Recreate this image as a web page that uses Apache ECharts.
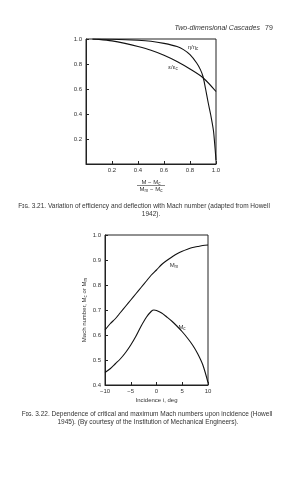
<!DOCTYPE html>
<html><head><meta charset="utf-8">
<script src="https://cdn.jsdelivr.net/npm/echarts@6/dist/echarts.min.js"></script>
<style>html,body{margin:0;padding:0;background:#fff}#c{width:308px;height:480px}</style>
</head><body><div id="c"></div>
<script>
// Fig 3.21
const machRatioEta = [0.05,0.2,0.4,0.5,0.6,0.7,0.75,0.8,0.85,0.88,0.9,0.92,0.94,0.96,0.98,0.99,1.0];
const etaRatio     = [1.0,0.998,0.99,0.982,0.965,0.94,0.915,0.875,0.81,0.755,0.70,0.60,0.49,0.39,0.27,0.16,0.03];
const machRatioEps = [0.05,0.1,0.2,0.3,0.4,0.5,0.6,0.7,0.8,0.9,1.0];
const epsRatio     = [1.0,0.997,0.985,0.965,0.94,0.91,0.87,0.82,0.76,0.69,0.58];
const topTicks = [0.2,0.4,0.6,0.8,1.0];
// Fig 3.22
const incidenceMm = [-10,-9,-8,-7,-6,-5,-4,-3,-2,-1,0,1,2,3,4,5,6,7,8,9,10];
const machMax     = [0.62,0.645,0.665,0.69,0.715,0.74,0.765,0.79,0.815,0.84,0.86,0.882,0.898,0.912,0.925,0.935,0.943,0.95,0.954,0.958,0.96];
const incidenceMc = [-10,-9,-8,-7,-6,-5,-4,-3,-2,-1,-0.5,0,1,2,3,4,5,6,7,8,9,10];
const machCrit    = [0.45,0.465,0.485,0.505,0.53,0.56,0.595,0.635,0.67,0.695,0.70,0.698,0.688,0.672,0.655,0.635,0.613,0.588,0.56,0.525,0.48,0.41];
const incTicks = [-10,-5,0,5,10];

const FF = '"Liberation Sans", Arial, sans-serif';
const TC = '#333';
const sub = {fontSize:4.5, fontFamily:FF, color:TC, verticalAlign:'bottom', padding:[3,0,0,0]};
const base = {fontSize:6.5, fontFamily:FF, color:TC};

const chart = echarts.init(document.getElementById('c'), null, {renderer:'canvas'});
function pair(xs, ys){ return xs.map((x,i)=>[x, ys[i]]); }
const fmt1 = v => (Math.abs(v) < 1e-9 ? '' : v.toFixed(1));
const lineS = {color:'#111', width:1.1};

function txt(x, y, text, size, opts){
  opts = opts || {};
  return {type:'text', x, y, silent:true, style:{
    text, font: (opts.italic ? 'italic ' : '') + size + 'px ' + FF,
    fill: TC, textAlign: opts.align || 'center', textVerticalAlign:'middle'}};
}
function richTxt(x, y, text, align){
  return {type:'text', x, y, silent:true, style:{
    text, fill:TC, textAlign: align || 'center', textVerticalAlign:'middle',
    font: '6px ' + FF,
    rich:{ n:{fontSize:6, fontFamily:FF, color:TC}, s:sub } }};
}

chart.setOption({
  animation:false,
  backgroundColor:'#fff',
  grid:[
    {left:86, right:92, top:39, bottom:316, show:true, borderColor:'#222', borderWidth:1},
    {left:105, right:100, top:235, bottom:95, show:true, borderColor:'#222', borderWidth:1}
  ],
  xAxis:[
    {gridIndex:0, type:'value', min:0, max:1, interval:0.2,
     axisLine:{onZero:false, lineStyle:{color:'#222'}}, axisTick:{inside:true, length:3, lineStyle:{color:'#222'}},
     splitLine:{show:false}, axisLabel:{...base, fontSize:6, margin:3, formatter:fmt1}},
    {gridIndex:1, type:'value', min:-10, max:10, interval:5,
     axisLine:{onZero:false, lineStyle:{color:'#222'}}, axisTick:{inside:true, length:3, lineStyle:{color:'#222'}},
     splitLine:{show:false}, axisLabel:{...base, fontSize:6, margin:3, formatter:v => (v<0 ? '\u2212' + Math.abs(v) : String(v))},
     name:'Incidence i, deg', nameLocation:'middle', nameGap:12, nameTextStyle:{...base, fontSize:6}}
  ],
  yAxis:[
    {gridIndex:0, type:'value', min:0, max:1, interval:0.2,
     axisLine:{show:true, onZero:false, lineStyle:{color:'#222'}}, axisTick:{show:true, inside:true, length:3, lineStyle:{color:'#222'}},
     splitLine:{show:false}, axisLabel:{...base, fontSize:6, margin:4, formatter:fmt1}},
    {gridIndex:1, type:'value', min:0.4, max:1.0, interval:0.1,
     axisLine:{show:true, onZero:false, lineStyle:{color:'#222'}}, axisTick:{show:true, inside:true, length:3, lineStyle:{color:'#222'}},
     splitLine:{show:false}, axisLabel:{...base, fontSize:6, margin:4, formatter:v => v.toFixed(1)},
     name:'Mach number, M{s|c} or M{s|m}', nameLocation:'middle', nameGap:15, nameRotate:90,
     nameTextStyle:{...base, fontSize:6, rich:{s:{...sub}}}}
  ],
  series:[
    {type:'line', xAxisIndex:0, yAxisIndex:0, data:pair(machRatioEta, etaRatio), smooth:0.3, showSymbol:false, lineStyle:lineS},
    {type:'line', xAxisIndex:0, yAxisIndex:0, data:pair(machRatioEps, epsRatio), smooth:0.3, showSymbol:false, lineStyle:lineS},
    {type:'line', xAxisIndex:1, yAxisIndex:1, data:pair(incidenceMm, machMax), smooth:0.3, showSymbol:false, lineStyle:lineS},
    {type:'line', xAxisIndex:1, yAxisIndex:1, data:pair(incidenceMc, machCrit), smooth:0.3, showSymbol:false, lineStyle:lineS}
  ],
  graphic:[
    txt(260, 28, 'Two-dimensional Cascades', 7, {italic:true, align:'right'}),
    txt(265, 28, '79', 7, {align:'left'}),
    richTxt(193, 47, '{n|\u03b7/\u03b7}{s|c}'),
    richTxt(173, 67, '{n|\u03b5/\u03b5}{s|c}'),
    richTxt(151, 182, '{n|M \u2212 M}{s|c}'),
    {type:'line', silent:true, shape:{x1:137, y1:185.5, x2:165, y2:185.5}, style:{stroke:'#333', lineWidth:0.6}},
    richTxt(151, 189.5, '{n|M}{s|m}{n| \u2212 M}{s|c}'),
    txt(144, 206, 'F\u026a\u0262. 3.21. Variation of efficiency and deflection with Mach number (adapted from Howell', 6.5),
    txt(151, 214.5, '1942).', 6.5),
    richTxt(174, 265, '{n|M}{s|m}'),
    richTxt(182, 327, '{n|M}{s|c}'),
    txt(147, 414, 'F\u026a\u0262. 3.22. Dependence of critical and maximum Mach numbers upon incidence (Howell', 6.5),
    txt(148, 422, '1945). (By courtesy of the Institution of Mechanical Engineers).', 6.5)
  ]
});
</script></body></html>
